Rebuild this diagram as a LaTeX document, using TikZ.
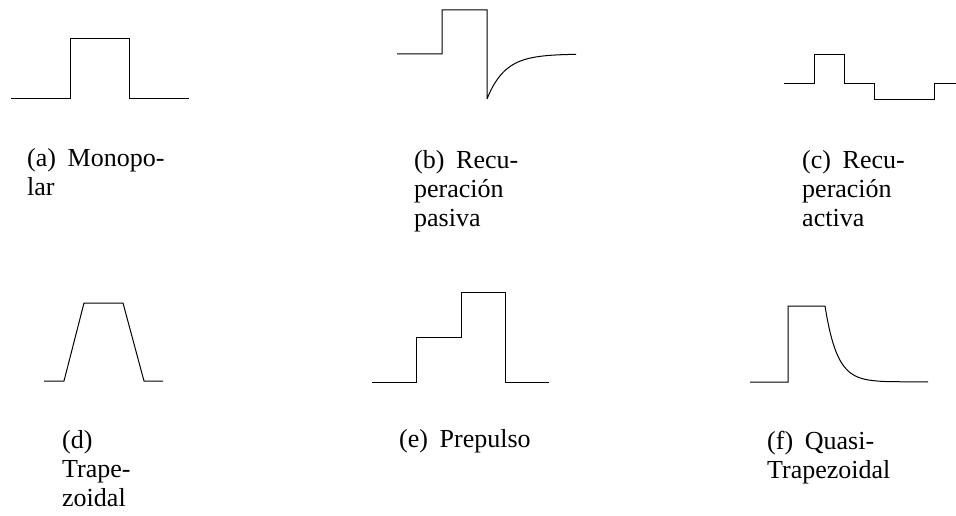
\documentclass[tikz,border=0pt]{standalone}
\usepackage{fontspec}
\setmainfont{Liberation Serif}
\usepackage{tikz}
\usetikzlibrary{positioning}
\newcommand{\sublabel}[1]{(#1)\hspace{0.45em}}

\begin{document}
\begin{tikzpicture}[x=1pt, y=-1pt,
    wave/.style={draw=black, line width=1pt, line join=miter},
    caption/.style={anchor=base west, inner sep=0pt, align=left,
                font=\fontsize{26}{29}\selectfont}]
  \useasboundingbox (0,0) rectangle (956,516);
  % top row
  \draw[wave] (11,99) -- (70,99) -- (70,39) -- (129,39) -- (129,99) -- (189,99);
  \draw[wave] (397,54) -- (442,54) -- (442,10) -- (487,10) -- (487,99)
    plot[domain=487:576, samples=50] (\x, {54+45*exp(-(\x-487)/18)});
  \draw[wave] (784,84) -- (814,84) -- (814,55) -- (844,55) -- (844,84) -- (874,84)
    -- (874,100) -- (934,100) -- (934,84) -- (956,84);
  % bottom row
  \draw[wave] (44,381) -- (64,381) -- (84,303) -- (123,303) -- (144,381) -- (163,381);
  \draw[wave] (372,382) -- (416,382) -- (416,337) -- (461,337) -- (461,292)
    -- (505,292) -- (505,382) -- (549,382);
  \draw[wave] (750,382) -- (788,382) -- (788,306) -- (825,306)
    plot[domain=825:890, samples=50] (\x, {382-76*exp(-(\x-825)/12)}) -- (928,382);
  % captions (base = last line)
  \node[caption] (capa) at (27,196) {\sublabel{a}Monopo-\\lar};
  \node[caption] (capb) at (414,226) {\sublabel{b}Recu-\\peración\\pasiva};
  \node[caption] (capc) at (802,226) {\sublabel{c}Recu-\\peración\\activa};
  \node[caption] (capd) at (62,506) {(d)\\Trape-\\zoidal};
  \node[caption] (cape) at (399,447) {\sublabel{e}Prepulso};
  \node[caption] (capf) at (767,478) {\sublabel{f}Quasi-\\Trapezoidal};
\end{tikzpicture}
\end{document}
